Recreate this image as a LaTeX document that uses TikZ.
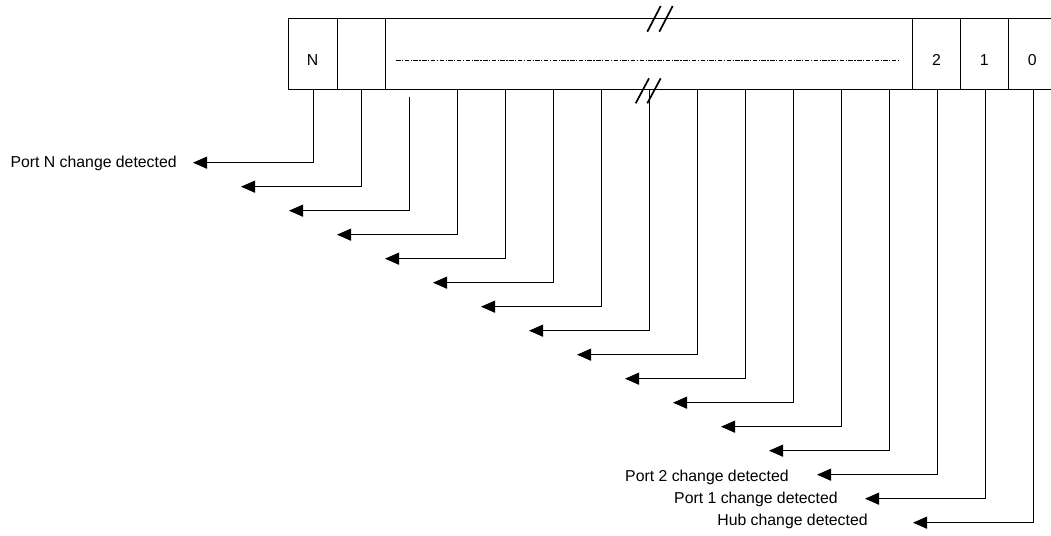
\documentclass[tikz,border=0pt]{standalone}
\usepackage{fontspec}
\setmainfont{Liberation Sans}
\usepackage{tikz}
\usetikzlibrary{arrows.meta}
\definecolor{regLine}{HTML}{000000}

\begin{document}
\begin{tikzpicture}[x=1pt,y=-1pt,line width=0.8pt,draw=regLine,
  tip/.style={-{Triangle[length=14pt,width=12pt]}},
  lbl/.style={anchor=east,inner sep=0pt,font=\fontsize{15.8}{18}\selectfont},
  cell/.style={inner sep=0pt,font=\fontsize{15.8}{18}\selectfont}]
\useasboundingbox (0,0) rectangle (1051,535);
\draw (1060,18) -- (288,18) -- (288,89.7) -- (1060,89.7);
\foreach \x in {337.3,385,912.7,960.3,1008.3}
  \draw (\x,18) -- (\x,89.7);
\node[cell] (bitN) at (312.7,60) {N};
\node[cell] (bit2) at (936.5,60) {2};
\node[cell] (bit1) at (984.3,60) {1};
\node[cell] (bit0) at (1032.3,60) {0};
\draw[dash pattern=on 4.5pt off 1.5pt on 1.2pt off 1.5pt] (396,60) -- (900,60);
\draw[line width=1.7pt] (647.3,31.7) -- (660.7,6) (659.3,31.7) -- (672.7,6);
\draw[line width=1.7pt] (635.7,103.3) -- (649,78.3) (647.3,103.3) -- (660.7,78.3);
\foreach \i in {0,...,15}{
  \coordinate (src\i) at ({313+48*\i},{ifthenelse(\i==2,96.7,89.7)});
  \coordinate (end\i) at ({193+48*\i},{162.7+24*\i});
  \draw[tip] (src\i) |- (end\i);
}
\node[lbl] (portN) at (177,163.5) {Port N change detected};
\node[lbl] (port2) at (789,477.5) {Port 2 change detected};
\node[lbl] (port1) at (838,499.5) {Port 1 change detected};
\node[lbl] (hub) at (868,521.5) {Hub change detected};
\end{tikzpicture}
\end{document}
